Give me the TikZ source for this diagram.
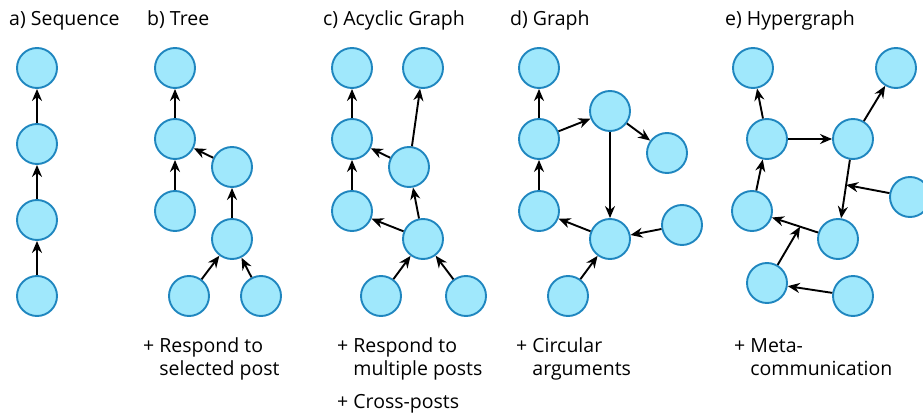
\documentclass[tikz,border=0pt]{standalone}
\usepackage{fontspec}
\setmainfont{Open Sans}
\usetikzlibrary{arrows.meta}

\definecolor{postfill}{HTML}{A0E8FC}
\definecolor{postline}{HTML}{1F86BF}

\tikzstyle{post} = [circle, minimum size=40pt, inner sep=0pt, draw=postline, fill=postfill, line width=1.9pt]
\tikzstyle{reply} = [-{Stealth[length=12pt,width=10pt]}, line width=1.9pt, black]
\tikzstyle{title} = [anchor=base west, inner sep=0pt, font=\fontsize{19.5}{23}\selectfont]
\tikzstyle{note} = [anchor=base west, inner sep=0pt, font=\fontsize{19.5}{23}\selectfont]

\begin{document}
\begin{tikzpicture}[x=1pt, y=-1pt]
\useasboundingbox (0,0) rectangle (923,417);

% titles
\node[title] (ta) at (9,26) {a) Sequence};
\node[title] (tb) at (147,26) {b) Tree};
\node[title] (tc) at (323,26) {c) Acyclic Graph};
\node[title] (td) at (510,26) {d) Graph};
\node[title] (te) at (725,26) {e) Hypergraph};

% a) sequence
\node[post] (a1) at (37,68) {};
\node[post] (a2) at (37,144) {};
\node[post] (a3) at (37,220) {};
\node[post] (a4) at (37,296) {};
\draw[reply] (a2) -- (a1);
\draw[reply] (a3) -- (a2);
\draw[reply] (a4) -- (a3);

% b) tree
\node[post] (b1) at (175,68) {};
\node[post] (b2) at (175,139) {};
\node[post] (b3) at (232,167) {};
\node[post] (b4) at (175,211) {};
\node[post] (b5) at (232,239) {};
\node[post] (b6) at (189,296) {};
\node[post] (b7) at (261,296) {};
\draw[reply] (b2) -- (b1);
\draw[reply] (b4) -- (b2);
\draw[reply] (b3) -- (b2);
\draw[reply] (b5) -- (b3);
\draw[reply] (b6) -- (b5);
\draw[reply] (b7) -- (b5);
\node[note] (nb) at (143,352) {+ \begin{tabular}[t]{@{}l@{}}Respond to\\selected post\end{tabular}};

% c) acyclic graph
\node[post] (c1) at (352,68) {};
\node[post] (c2) at (423,68) {};
\node[post] (c3) at (352,139) {};
\node[post] (c4) at (409,167) {};
\node[post] (c5) at (352,211) {};
\node[post] (c6) at (423,239) {};
\node[post] (c7) at (381,296) {};
\node[post] (c8) at (466,296) {};
\draw[reply] (c3) -- (c1);
\draw[reply] (c4) -- (c2);
\draw[reply] (c4) -- (c3);
\draw[reply] (c5) -- (c3);
\draw[reply] (c6) -- (c5);
\draw[reply] (c6) -- (c4);
\draw[reply] (c7) -- (c6);
\draw[reply] (c8) -- (c6);
\node[note] (nc) at (337,352) {+ \begin{tabular}[t]{@{}l@{}}Respond to\\multiple posts\end{tabular}};
\node[note] (nc2) at (337,408) {+ Cross-posts};

% d) graph
\node[post] (d1) at (539,68) {};
\node[post] (d2) at (539,139) {};
\node[post] (d3) at (539,211) {};
\node[post] (d4) at (610,111) {};
\node[post] (d5) at (667,153) {};
\node[post] (d6) at (610,239) {};
\node[post] (d7) at (682,225) {};
\node[post] (d8) at (568,296) {};
\draw[reply] (d2) -- (d1);
\draw[reply] (d3) -- (d2);
\draw[reply] (d2) -- (d4);
\draw[reply] (d4) -- (d5);
\draw[reply] (d4) -- (d6);
\draw[reply] (d6) -- (d3);
\draw[reply] (d7) -- (d6);
\draw[reply] (d8) -- (d6);
\node[note] (nd) at (516,352) {+ \begin{tabular}[t]{@{}l@{}}Circular\\arguments\end{tabular}};

% e) hypergraph
\node[post] (e1) at (753,68) {};
\node[post] (e2) at (896,68) {};
\node[post] (e3) at (767,139) {};
\node[post] (e4) at (853,139) {};
\node[post] (e5) at (910,197) {};
\node[post] (e6) at (752,211) {};
\node[post] (e7) at (838,239) {};
\node[post] (e8) at (767,283) {};
\node[post] (e9) at (853,296) {};
\draw[reply] (e3) -- (e1);
\draw[reply] (e4) -- (e2);
\draw[reply] (e3) -- (e4);
\draw[reply] (e4) -- coordinate[pos=0.43] (eh1) (e7);
\draw[reply] (e7) -- coordinate[pos=0.39] (eh2) (e6);
\draw[reply] (e6) -- (e3);
\draw[reply] (e9) -- (e8);
\draw[reply] (e5) -- (eh1);
\draw[reply] (e8) -- (eh2);
\node[note] (ne) at (734,352) {+ \begin{tabular}[t]{@{}l@{}}Meta-\\communication\end{tabular}};
\end{tikzpicture}
\end{document}
